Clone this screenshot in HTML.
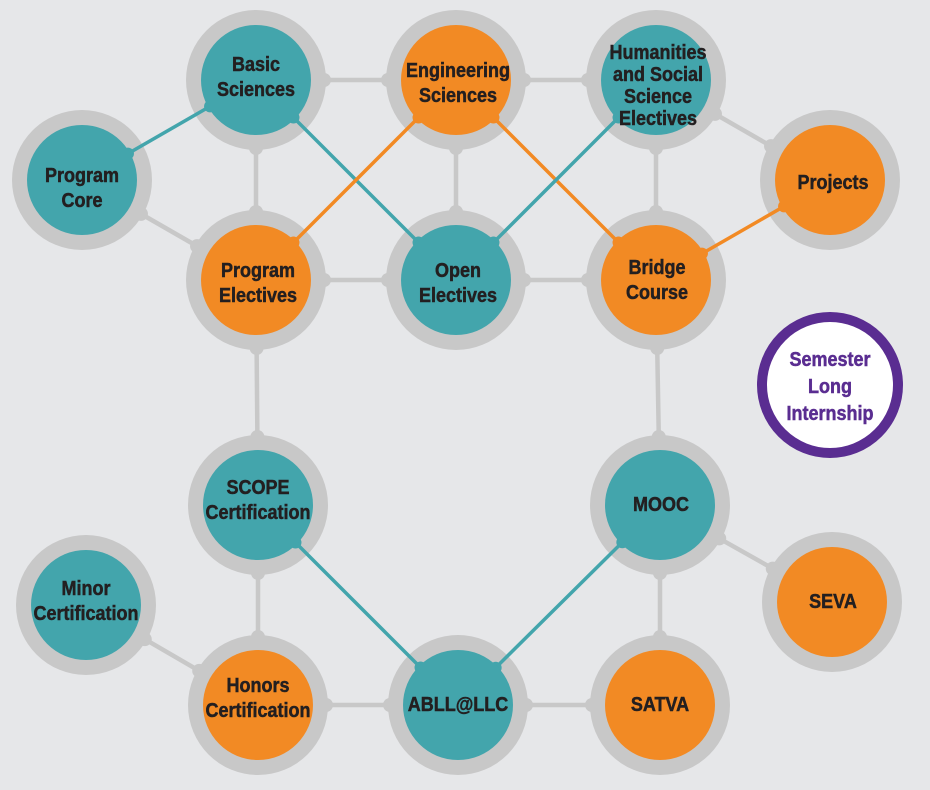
<!DOCTYPE html>
<html><head><meta charset="utf-8"><style>
html,body{margin:0;padding:0;background:#e6e7e9;}
svg{display:block}
text{font-family:"Liberation Sans Narrow","Liberation Sans",sans-serif;font-weight:bold;fill:#231f20;text-anchor:middle;font-size:20px;stroke:#231f20;stroke-width:0.5px}
</style></head><body>
<svg id="s" width="930" height="790" viewBox="0 0 930 790" xmlns="http://www.w3.org/2000/svg">
<rect width="930" height="790" fill="#e6e7e9"/>
<g id="gl"></g><g id="rings"></g><g id="cl"></g><g id="inner"></g>
<circle cx="830" cy="385" r="68" fill="#fff" stroke="#5a2d91" stroke-width="10"/>
<g id="txt">
<text x="256" y="71">Basic</text><text x="256" y="96">Sciences</text>
<text x="458" y="77">Engineering</text><text x="458" y="102">Sciences</text>
<text x="658" y="59" font-size="19">Humanities</text><text x="658" y="81" font-size="19">and Social</text><text x="658" y="103" font-size="19">Science</text><text x="658" y="125" font-size="19">Electives</text>
<text x="82" y="182">Program</text><text x="82" y="207">Core</text>
<text x="833" y="189">Projects</text>
<text x="258" y="277">Program</text><text x="258" y="302">Electives</text>
<text x="458" y="277">Open</text><text x="458" y="302">Electives</text>
<text x="657" y="274">Bridge</text><text x="657" y="299">Course</text>
<text x="830" y="366" style="fill:#5a2d91;stroke:#5a2d91" font-size="21">Semester</text><text x="830" y="393" style="fill:#5a2d91;stroke:#5a2d91" font-size="21">Long</text><text x="830" y="420" style="fill:#5a2d91;stroke:#5a2d91" font-size="21">Internship</text>
<text x="258" y="494">SCOPE</text><text x="258" y="519">Certification</text>
<text x="661" y="511">MOOC</text>
<text x="86" y="595">Minor</text><text x="86" y="620">Certification</text>
<text x="833" y="608">SEVA</text>
<text x="258" y="692">Honors</text><text x="258" y="717">Certification</text>
<text x="458" y="711">ABLL@LLC</text>
<text x="660" y="711">SATVA</text>
</g>
</svg>
<script>
var N={bs:[256,80,'t'],es:[456,80,'o'],hu:[656,80,'t'],pc:[82,180,'t'],pj:[830,180,'o'],pe:[256,280,'o'],oe:[456,280,'t'],bc:[656,280,'o'],sc:[258,505,'t'],mo:[660,505,'t'],mi:[86,605,'t'],se:[832,602,'o'],ho:[258,705,'o'],ab:[458,705,'t'],sa:[660,705,'o']};
var G=[['bs','es'],['es','hu'],['bs','pe'],['es','oe'],['hu','bc'],['pe','oe'],['oe','bc'],['pc','pe'],['hu','pj'],['pe','sc'],['bc','mo'],['sc','ho'],['mo','sa'],['mi','ho'],['mo','se'],['ho','ab'],['ab','sa']];
var C=[['pc','bs','t'],['bs','oe','t'],['es','pe','o'],['es','bc','o'],['hu','oe','t'],['bc','pj','o'],['sc','ab','t'],['mo','ab','t']];
var col={t:'#43a5ac',o:'#f28a24'},NS='http://www.w3.org/2000/svg';
function el(p,n,a){var e=document.createElementNS(NS,n);for(var k in a)e.setAttribute(k,a[k]);document.getElementById(p).appendChild(e);}
function seg(p,a,b,r,c,w,dr){var A=N[a],B=N[b],dx=B[0]-A[0],dy=B[1]-A[1],L=Math.hypot(dx,dy),ux=dx/L,uy=dy/L;
var x1=A[0]+ux*r,y1=A[1]+uy*r,x2=B[0]-ux*r,y2=B[1]-uy*r;
el(p,'line',{x1:x1,y1:y1,x2:x2,y2:y2,stroke:c,'stroke-width':w});
el(p,'circle',{cx:x1,cy:y1,r:dr,fill:c});el(p,'circle',{cx:x2,cy:y2,r:dr,fill:c});}
G.forEach(function(g){seg('gl',g[0],g[1],68,'#c8c8c8',4.5,7);});
for(var k in N){el('rings','circle',{cx:N[k][0],cy:N[k][1],r:70,fill:'#c8c8c8'});}
C.forEach(function(c){seg('cl',c[0],c[1],53,col[c[2]],3.5,6);});
for(var k in N){el('inner','circle',{cx:N[k][0],cy:N[k][1],r:55,fill:col[N[k][2]]});}
var ts=document.querySelectorAll('#txt text');
for(var i=0;i<ts.length;i++){var x=+ts[i].getAttribute('x');ts[i].setAttribute('transform','translate('+x+',0) scale(0.9,1) translate('+(-x)+',0)');}
</script>
</body></html>
